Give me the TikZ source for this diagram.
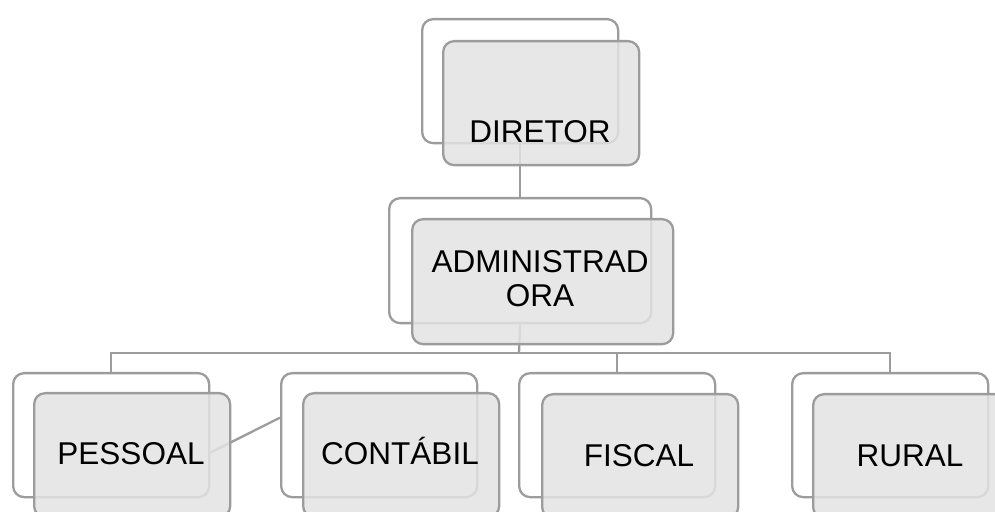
\documentclass[tikz,border=0pt]{standalone}
\usepackage{fontspec}
\setmainfont{Liberation Sans}
\definecolor{bordergray}{HTML}{9C9C9C}
\definecolor{frontfill}{HTML}{E3E3E3}
\begin{document}
\begin{tikzpicture}[x=1pt,y=1pt,
  backbox/.style={draw=bordergray, line width=2.3pt, fill=white, rounded corners=11pt,
    rectangle, inner sep=0pt, anchor=north west, minimum width=196pt, minimum height=124pt},
  frontbox/.style={draw=bordergray, line width=2.3pt, fill=frontfill, fill opacity=0.85,
    rounded corners=11pt, rectangle, inner sep=0pt, anchor=north west,
    minimum width=196pt, minimum height=124pt},
  conn/.style={draw=bordergray, line width=2.3pt},
  lbl/.style={font=\fontsize{31.5}{34}\selectfont, text=black, anchor=base, align=center, inner sep=0pt}]
\useasboundingbox (0,0) rectangle (995,511);
% back boxes
\node[backbox] (db) at (421,493) {};
\node[backbox, minimum width=262pt, minimum height=125pt] (ab) at (388,314) {};
\node[backbox] (pb) at (12,139) {};
\node[backbox] (cb) at (280,139) {};
\node[backbox] (fb) at (518,139) {};
\node[backbox] (rb) at (791,139) {};
% connectors
\coordinate (bus) at (519,158);
\draw[conn] (db.south) -- (ab.north);
\draw[conn] (ab.south) -- (bus);
\draw[conn] (bus) -| (pb.north);
\draw[conn] (bus) -| (fb.north);
\draw[conn] (bus) -| (rb.north);
\draw[conn] (pb.-10) -- (cb.170);
% front boxes
\node[frontbox] (df) at (442,471) {};
\node[frontbox, minimum width=261pt, minimum height=125pt] (af) at (411,293) {};
\node[frontbox] (pf) at (33,119) {};
\node[frontbox] (cf) at (302,119) {};
\node[frontbox] (ff) at (541,118) {};
\node[frontbox] (rf) at (812,118) {};
% labels
\node[lbl] (dt) at (540,368) {DIRETOR};
\node[lbl] (at1) at (540,238) {ADMINISTRAD};
\node[lbl] (at2) at (540,204) {ORA};
\node[lbl] (pt) at (131,46) {PESSOAL};
\node[lbl] (ct) at (400,46) {CONTÁBIL};
\node[lbl] (ft) at (639,45) {FISCAL};
\node[lbl] (rt) at (910,45) {RURAL};
\end{tikzpicture}
\end{document}
